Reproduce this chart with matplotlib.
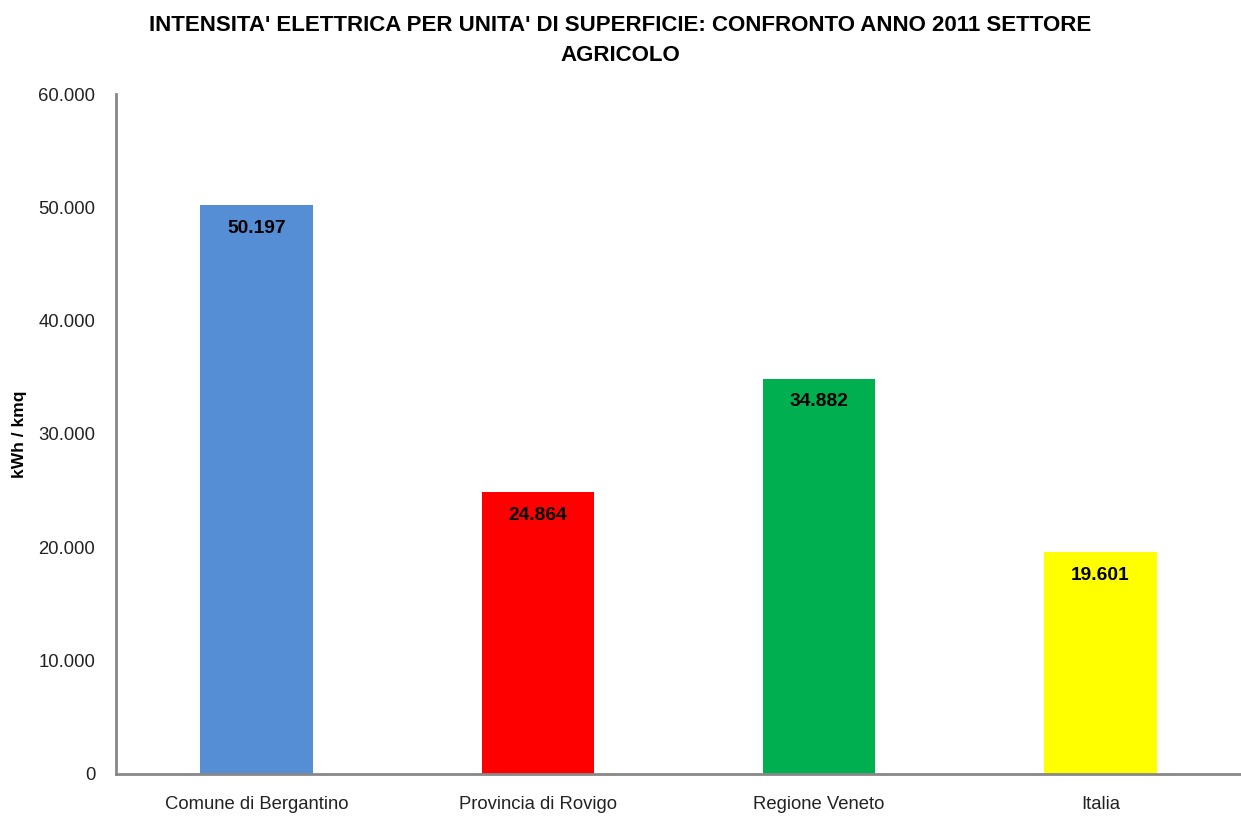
import matplotlib.pyplot as plt
from matplotlib.ticker import FuncFormatter

categories = ["Comune di Bergantino", "Provincia di Rovigo", "Regione Veneto", "Italia"]
values = [50197, 24864, 34882, 19601]
colors = ["#558ED5", "#FF0000", "#00B050", "#FFFF00"]
yticks = [0, 10000, 20000, 30000, 40000, 50000, 60000]


def fmt_it(v, pos=None):
    return f"{int(round(v)):,}".replace(",", ".")


plt.rcParams['font.family'] = ['Liberation Sans', 'DejaVu Sans']
title_font = ['Liberation Sans Narrow', 'Liberation Sans', 'DejaVu Sans']

fig = plt.figure(figsize=(12.41, 8.16), dpi=100)
ax = fig.add_axes([0.0935, 0.0515, 0.9065, 0.8333])

x = range(len(categories))
bars = ax.bar(x, values, width=0.4, color=colors)
ax.set_xlim(-0.5, 3.5)
ax.set_ylim(0, 60000)
ax.set_yticks(yticks)
ax.yaxis.set_major_formatter(FuncFormatter(fmt_it))
ax.set_xticks(list(x))
ax.set_xticklabels(categories)
ax.tick_params(axis='both', length=0, labelsize=13.3, colors='#222222')
ax.tick_params(axis='y', pad=15)
ax.tick_params(axis='x', pad=16)

for b, v in zip(bars, values):
    ax.text(b.get_x() + b.get_width() / 2, v - 1300, fmt_it(v),
            ha='center', va='top', fontsize=13.8, fontweight='bold')

for s in ['top', 'right']:
    ax.spines[s].set_visible(False)
for s in ['left', 'bottom']:
    ax.spines[s].set_color('#888888')
    ax.spines[s].set_linewidth(2)

fig.text(20 / 1241, 0.468, "kWh / kmq", rotation=90, ha='center', va='center',
         fontsize=12.5, fontweight='bold')

fig.text(0.5, 0.982, "INTENSITA' ELETTRICA PER UNITA' DI SUPERFICIE: CONFRONTO ANNO 2011 SETTORE\nAGRICOLO",
         ha='center', va='top', fontsize=16, fontweight='bold', family=title_font,
         linespacing=1.6)

fig.savefig("out.png", dpi=100)
